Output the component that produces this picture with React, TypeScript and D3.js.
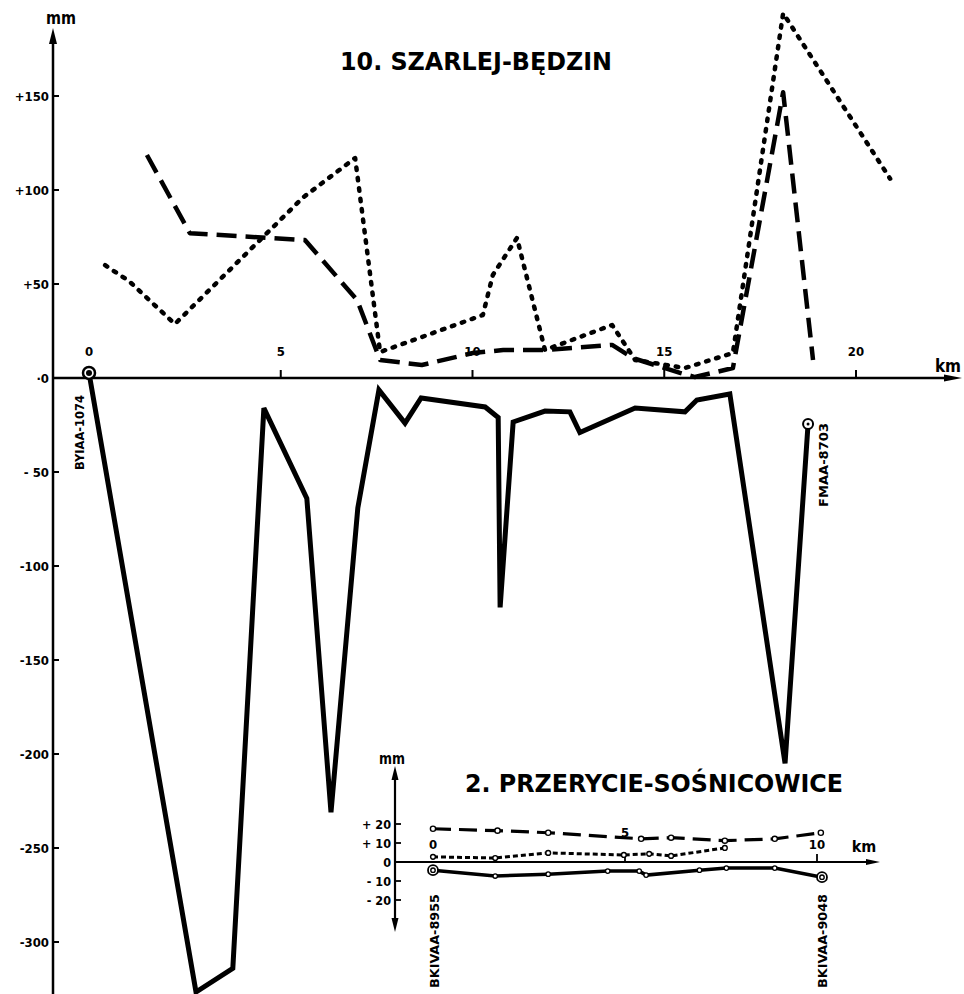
import React from "react";
import * as d3 from "d3";

// main profile: 10. SZARLEJ-BĘDZIN
const yTickValues = [150, 100, 50, 0, -50, -100, -150, -200, -250, -300];
const yTickLabels = ["+150", "+100", "+50", "·0", "- 50", "-100", "-150", "-200", "-250", "-300"];
const xTickValues = [0, 5, 10, 15, 20];

const dottedKm = [0.42, 1.04, 2.24, 5.58, 6.94, 7.59, 10.27, 10.53, 11.16, 11.89, 13.64, 14.24, 15.54, 16.79, 18.1, 20.89];
const dottedMm = [60, 51.6, 28.7, 96, 117, 13.8, 33.5, 54.8, 74.5, 14.9, 28.2, 9.6, 5.3, 13.3, 194, 106];

const dashedKm = [1.51, 2.63, 5.63, 6.99, 7.59, 8.68, 10.01, 10.8, 11.89, 13.64, 14.18, 15.41, 15.8, 16.79, 18.1, 18.88];
const dashedMm = [118.6, 77, 73.4, 41.5, 9.6, 6.9, 13.3, 14.9, 14.9, 17.6, 10.6, 2.7, 0.5, 5.3, 152, 9.6];

const solidKm = [0, 2.79, 3.75, 4.56, 5.68, 6.31, 7.01, 7.56, 8.24, 8.66, 10.33, 10.67, 10.72, 11.06, 11.89, 12.54, 12.8, 14.24, 15.54, 15.85, 16.71, 18.15, 18.75];
const solidMm = [2.7, -326.6, -314, -16, -64, -231, -69, -6.4, -24, -10.6, -15.4, -21, -122, -23.4, -17.6, -18, -29, -16, -18, -11.7, -8.5, -205, -24.5];

const mainStartLabel = "BYIAA-1074";
const mainEndLabel = "FMAA-8703";

// inset profile: 2. PRZERYCIE-SOŚNICOWICE
const insetYTicks = [20, 10, 0, -10, -20];
const insetYLabels = ["+ 20", "+ 10", "0", "- 10", "- 20"];
const insetXTicks = [0, 5, 10];

const insetDashDotKm = [0, 1.68, 3.0, 5.42, 6.2, 7.6, 8.9, 10.1];
const insetDashDotMm = [17.5, 16.5, 15.4, 12.2, 12.8, 11.2, 12.2, 15.4];

const insetDottedKm = [0, 1.62, 3.0, 4.97, 5.63, 6.2, 7.6];
const insetDottedMm = [2.7, 2.1, 4.8, 3.7, 4.3, 3.2, 7.4];

const insetSolidKm = [0, 1.62, 3.0, 4.55, 5.37, 5.55, 6.94, 7.64, 8.9, 10.13];
const insetSolidMm = [-4.3, -7.4, -6.4, -4.8, -4.8, -6.9, -4.3, -3.2, -3.2, -8];

const insetStartLabel = "BKIVAA-8955";
const insetEndLabel = "BKIVAA-9048";

const FONT = "'DejaVu Sans Condensed', 'Liberation Sans Narrow', 'DejaVu Sans', sans-serif";

const zip = (a: number[], b: number[]) => a.map((v, i) => [v, b[i]] as [number, number]);

export default function App() {
  const W = 964;
  const H = 994;

  const x = d3.scaleLinear().domain([0, 20]).range([89, 856]);
  const y = d3.scaleLinear().domain([0, 150]).range([378, 96]);
  const line = d3.line<[number, number]>().x((d) => x(d[0])).y((d) => y(d[1]));

  const xi = d3.scaleLinear().domain([0, 10]).range([433, 817]);
  const yi = d3.scaleLinear().domain([0, 20]).range([862, 824]);
  const lineI = d3.line<[number, number]>().x((d) => xi(d[0])).y((d) => yi(d[1]));

  const axisX0 = 53;
  const y0 = y(0);
  const yi0 = yi(0);

  const sEnd = solidKm.length - 1;
  const iEnd = insetSolidKm.length - 1;

  return (
    <div style={{ position: "absolute", left: 0, top: 0 }}>
      <svg width={W} height={H} style={{ display: "block", background: "#fff" }}>
        {/* main axes */}
        <line x1={axisX0} y1={36} x2={axisX0} y2={H} stroke="#000" strokeWidth={2.5} />
        <path d={`M${axisX0 - 4},${44} L${axisX0},${28} L${axisX0 + 4},${44} Z`} fill="#000" />
        <line x1={axisX0} y1={y0} x2={952} y2={y0} stroke="#000" strokeWidth={2.5} />
        <path d={`M${944},${y0 - 3.5} L${962},${y0} L${944},${y0 + 3.5} Z`} fill="#000" />
        <text x={61} y={24} fontFamily={FONT} fontSize={18} fontWeight="bold" textAnchor="middle" textLength={30} lengthAdjust="spacingAndGlyphs">mm</text>
        <text x={948} y={372} fontFamily={FONT} fontSize={17} fontWeight="bold" textAnchor="middle">km</text>

        {yTickValues.map((v, i) => (
          <g key={"yt" + v}>
            <line x1={axisX0} x2={axisX0 + 6} y1={y(v)} y2={y(v)} stroke="#000" strokeWidth={2} />
            <text x={axisX0 - 4} y={y(v) + 4.5} fontFamily={FONT} fontSize={13} fontWeight="bold" textAnchor="end">
              {yTickLabels[i]}
            </text>
          </g>
        ))}
        {xTickValues.map((v) => (
          <g key={"xt" + v}>
            {v > 0 && <line x1={x(v)} x2={x(v)} y1={y0} y2={y0 - 8} stroke="#000" strokeWidth={2} />}
            <text x={x(v)} y={y0 - 22} fontFamily={FONT} fontSize={13} fontWeight="bold" textAnchor="middle">
              {v}
            </text>
          </g>
        ))}

        <text x={476} y={70} fontFamily={FONT} fontSize={24} fontWeight="bold" textAnchor="middle" textLength={272} lengthAdjust="spacingAndGlyphs">
          10. SZARLEJ-BĘDZIN
        </text>

        {/* main series */}
        <path d={line(zip(dashedKm, dashedMm)) || ""} fill="none" stroke="#000" strokeWidth={4.5} strokeDasharray="20 9" strokeLinejoin="round" />
        <path d={line(zip(dottedKm, dottedMm)) || ""} fill="none" stroke="#000" strokeWidth={4.5} strokeDasharray="2.5 8" strokeLinecap="round" strokeLinejoin="round" />
        <path d={line(zip(solidKm, solidMm)) || ""} fill="none" stroke="#000" strokeWidth={5} strokeLinejoin="miter" />
        <circle cx={x(solidKm[0])} cy={y(solidMm[0])} r={6} fill="#fff" stroke="#000" strokeWidth={2.5} />
        <circle cx={x(solidKm[0])} cy={y(solidMm[0])} r={3} fill="#000" />
        <circle cx={x(solidKm[sEnd])} cy={y(solidMm[sEnd])} r={5} fill="#fff" stroke="#000" strokeWidth={2} />
        <circle cx={x(solidKm[sEnd])} cy={y(solidMm[sEnd])} r={1.5} fill="#000" />

        <text transform={`translate(${84},${470}) rotate(-90)`} fontFamily={FONT} fontSize={12.5} fontWeight="bold" textLength={75} lengthAdjust="spacingAndGlyphs">
          {mainStartLabel}
        </text>
        <text transform={`translate(${828},${507}) rotate(-90)`} fontFamily={FONT} fontSize={12.5} fontWeight="bold" textLength={84} lengthAdjust="spacingAndGlyphs">
          {mainEndLabel}
        </text>

        {/* inset */}
        <rect x={368} y={745} width={520} height={249} fill="none" />
        <line x1={395} y1={774} x2={395} y2={924} stroke="#000" strokeWidth={2.2} />
        <path d={`M${391.5},${780} L${395},${766} L${398.5},${780} Z`} fill="#000" />
        <path d={`M${391.5},${918} L${395},${932} L${398.5},${918} Z`} fill="#000" />
        <line x1={395} y1={yi0} x2={872} y2={yi0} stroke="#000" strokeWidth={2.2} />
        <path d={`M${866},${yi0 - 3} L${880},${yi0} L${866},${yi0 + 3} Z`} fill="#000" />
        <text x={392} y={764} fontFamily={FONT} fontSize={16} fontWeight="bold" textAnchor="middle" textLength={26} lengthAdjust="spacingAndGlyphs">mm</text>
        <text x={864} y={852} fontFamily={FONT} fontSize={16} fontWeight="bold" textAnchor="middle">km</text>
        {insetYTicks.map((v, i) => (
          <g key={"iyt" + v}>
            <line x1={395} x2={401} y1={yi(v)} y2={yi(v)} stroke="#000" strokeWidth={1.8} />
            <text x={391} y={yi(v) + 4.5} fontFamily={FONT} fontSize={12.5} fontWeight="bold" textAnchor="end">
              {insetYLabels[i]}
            </text>
          </g>
        ))}
        {insetXTicks.map((v) => (
          <g key={"ixt" + v}>
            {v > 0 && <line x1={xi(v)} x2={xi(v)} y1={yi0} y2={yi0 - 8} stroke="#000" strokeWidth={1.8} />}
            <text x={xi(v)} y={v === 5 ? yi0 - 25 : yi0 - 13} fontFamily={FONT} fontSize={13} fontWeight="bold" textAnchor="middle">
              {v}
            </text>
          </g>
        ))}
        <text x={654} y={792} fontFamily={FONT} fontSize={25} fontWeight="bold" textAnchor="middle" textLength={378} lengthAdjust="spacingAndGlyphs">
          2. PRZERYCIE-SOŚNICOWICE
        </text>

        <path d={lineI(zip(insetDashDotKm, insetDashDotMm)) || ""} fill="none" stroke="#000" strokeWidth={3.2} strokeDasharray="18 8" />
        <path d={lineI(zip(insetDottedKm, insetDottedMm)) || ""} fill="none" stroke="#000" strokeWidth={3} strokeDasharray="5 3" />
        <path d={lineI(zip(insetSolidKm, insetSolidMm)) || ""} fill="none" stroke="#000" strokeWidth={3.5} />
        {insetDashDotKm.map((k, i) => (
          <circle key={"dd" + i} cx={xi(k)} cy={yi(insetDashDotMm[i])} r={2.6} fill="#fff" stroke="#000" strokeWidth={1.4} />
        ))}
        {insetDottedKm.map((k, i) => (
          <circle key={"do" + i} cx={xi(k)} cy={yi(insetDottedMm[i])} r={2.4} fill="#fff" stroke="#000" strokeWidth={1.4} />
        ))}
        {insetSolidKm.map((k, i) =>
          i === 0 || i === iEnd ? (
            <g key={"so" + i}>
              <circle cx={xi(k)} cy={yi(insetSolidMm[i])} r={5} fill="#fff" stroke="#000" strokeWidth={1.8} />
              <circle cx={xi(k)} cy={yi(insetSolidMm[i])} r={2.2} fill="#fff" stroke="#000" strokeWidth={1.4} />
            </g>
          ) : (
            <circle key={"so" + i} cx={xi(k)} cy={yi(insetSolidMm[i])} r={2.2} fill="#fff" stroke="#000" strokeWidth={1.3} />
          )
        )}
        <text transform={`translate(${439},${988}) rotate(-90)`} fontFamily={FONT} fontSize={12.5} fontWeight="bold" textLength={94} lengthAdjust="spacingAndGlyphs">
          {insetStartLabel}
        </text>
        <text transform={`translate(${827},${988}) rotate(-90)`} fontFamily={FONT} fontSize={12.5} fontWeight="bold" textLength={94} lengthAdjust="spacingAndGlyphs">
          {insetEndLabel}
        </text>
      </svg>
    </div>
  );
}
